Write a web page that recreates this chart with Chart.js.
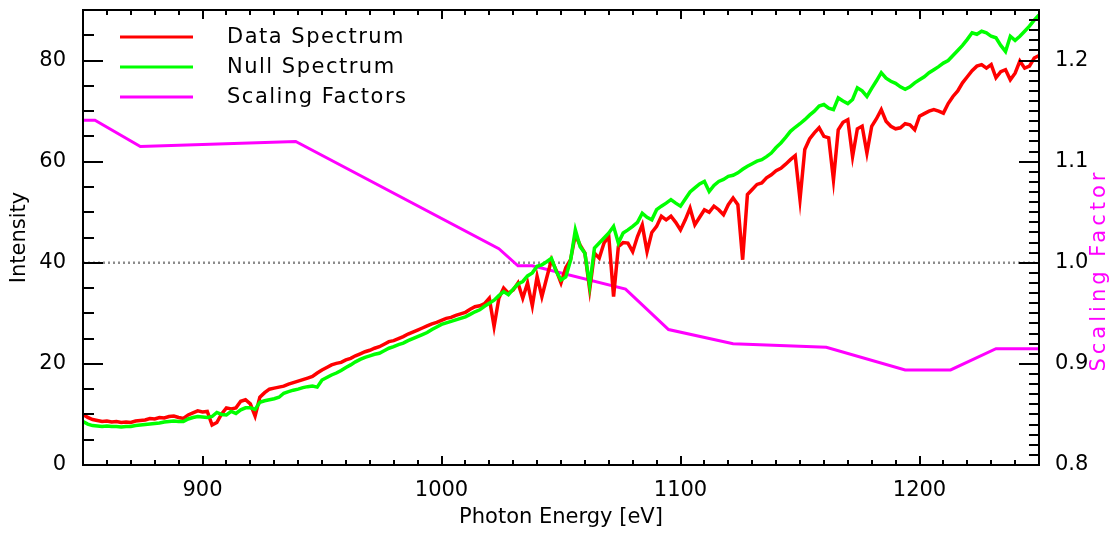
<!DOCTYPE html>
<html>
<head>
<meta charset="utf-8">
<script src="https://cdn.jsdelivr.net/npm/chart.js@4.4.0/dist/chart.umd.min.js"></script>
<style>
  html, body { margin: 0; padding: 0; background: #fff; }
</style>
</head>
<body>
<canvas id="spectrum" width="1118" height="533"></canvas>
<script>
// photon energy grid [eV]
const energy = [
  850, 852, 854, 856, 858, 860, 862, 864, 866, 868,
  870, 872, 874, 876, 878, 880, 882, 884, 886, 888,
  890, 892, 894, 896, 898, 900, 902, 904, 906, 908,
  910, 912, 914, 916, 918, 920, 922, 924, 926, 928,
  930, 932, 934, 936, 938, 940, 942, 944, 946, 948,
  950, 952, 954, 956, 958, 960, 962, 964, 966, 968,
  970, 972, 974, 976, 978, 980, 982, 984, 986, 988,
  990, 992, 994, 996, 998, 1000, 1002, 1004, 1006, 1008,
  1010, 1012, 1014, 1016, 1018, 1020, 1022, 1024, 1026, 1028,
  1030, 1032, 1034, 1036, 1038, 1040, 1042, 1044, 1046, 1048,
  1050, 1052, 1054, 1056, 1058, 1060, 1062, 1064, 1066, 1068,
  1070, 1072, 1074, 1076, 1078, 1080, 1082, 1084, 1086, 1088,
  1090, 1092, 1094, 1096, 1098, 1100, 1102, 1104, 1106, 1108,
  1110, 1112, 1114, 1116, 1118, 1120, 1122, 1124, 1126, 1128,
  1130, 1132, 1134, 1136, 1138, 1140, 1142, 1144, 1146, 1148,
  1150, 1152, 1154, 1156, 1158, 1160, 1162, 1164, 1166, 1168,
  1170, 1172, 1174, 1176, 1178, 1180, 1182, 1184, 1186, 1188,
  1190, 1192, 1194, 1196, 1198, 1200, 1202, 1204, 1206, 1208,
  1210, 1212, 1214, 1216, 1218, 1220, 1222, 1224, 1226, 1228,
  1230, 1232, 1234, 1236, 1238, 1240, 1242, 1244, 1246, 1248,
  1250
];

const dataSpectrum = [
  10.0, 9.4, 9.0, 8.8, 8.6, 8.7, 8.5, 8.6, 8.4, 8.5,
  8.4, 8.7, 8.8, 8.9, 9.2, 9.1, 9.4, 9.3, 9.6, 9.7,
  9.4, 9.2, 9.9, 10.3, 10.7, 10.5, 10.6, 7.9, 8.4, 10.1,
  11.3, 11.1, 11.3, 12.6, 12.9, 12.1, 9.7, 13.4, 14.3, 15.0,
  15.2, 15.4, 15.6, 16.0, 16.3, 16.6, 16.9, 17.2, 17.5, 18.2,
  18.8, 19.3, 19.8, 20.1, 20.3, 20.8, 21.1, 21.6, 22.0, 22.4,
  22.7, 23.1, 23.4, 23.9, 24.4, 24.6, 25.0, 25.4, 25.9, 26.3,
  26.7, 27.1, 27.5, 27.9, 28.2, 28.6, 29.0, 29.2, 29.6, 29.9,
  30.2, 30.8, 31.3, 31.5, 31.9, 33.0, 27.4, 33.0, 35.0, 34.0,
  34.6, 36.0, 33.0, 36.0, 31.5, 37.3, 33.3, 37.0, 40.6, 38.5,
  36.0, 39.0, 40.6, 45.5, 43.5, 41.9, 34.7, 41.9, 40.9, 43.9,
  45.2, 33.3, 43.2, 44.0, 43.9, 42.2, 45.2, 47.5, 42.2, 46.0,
  47.2, 49.2, 48.5, 49.2, 48.0, 46.5, 48.5, 50.8, 47.5, 49.0,
  50.5, 50.0, 51.2, 50.5, 49.5, 51.5, 52.8, 51.5, 40.6, 53.5,
  54.5, 55.5, 55.8, 56.8, 57.4, 58.2, 58.7, 59.5, 60.4, 61.2,
  52.5, 62.4, 64.5, 65.7, 66.7, 65.0, 64.7, 56.4, 66.3, 67.8,
  68.3, 61.0, 66.5, 67.0, 61.7, 67.0, 68.5, 70.3, 68.0, 67.0,
  66.5, 66.7, 67.5, 67.3, 66.3, 69.0, 69.5, 70.0, 70.3, 70.0,
  69.6, 71.5, 72.9, 74.0, 75.6, 76.8, 78.0, 78.9, 79.2, 78.5,
  79.2, 76.6, 77.8, 78.2, 76.2, 77.5, 79.9, 78.5, 78.9, 80.5,
  81.0
];

const nullSpectrum = [
  8.6, 8.1, 7.8, 7.7, 7.6, 7.7, 7.6, 7.6, 7.5, 7.6,
  7.6, 7.8, 7.9, 8.0, 8.1, 8.2, 8.3, 8.5, 8.6, 8.7,
  8.6, 8.6, 9.1, 9.4, 9.6, 9.5, 9.4, 9.6, 10.4, 10.0,
  9.9, 10.6, 10.2, 10.9, 11.3, 11.3, 11.0, 12.4, 12.7, 12.9,
  13.1, 13.4, 14.2, 14.5, 14.8, 15.0, 15.3, 15.5, 15.6, 15.4,
  16.8, 17.3, 17.8, 18.2, 18.7, 19.3, 19.8, 20.4, 20.9, 21.3,
  21.6, 21.9, 22.1, 22.6, 23.1, 23.4, 23.8, 24.1, 24.6, 25.0,
  25.4, 25.8, 26.2, 26.8, 27.3, 27.8, 28.1, 28.4, 28.7, 29.0,
  29.3, 29.8, 30.3, 30.7, 31.4, 32.0, 32.6, 33.5, 34.3, 33.7,
  34.8, 35.8, 36.3, 37.4, 38.0, 39.3, 39.6, 40.2, 40.9, 38.3,
  36.6, 37.2, 40.5, 46.5, 43.2, 41.9, 35.5, 42.9, 43.9, 44.9,
  45.9, 47.2, 43.9, 45.9, 46.5, 47.2, 48.0, 49.8, 49.0, 48.5,
  50.5, 51.2, 51.8, 52.5, 51.8, 51.2, 52.6, 54.0, 54.8, 55.6,
  56.1, 54.1, 55.3, 56.1, 56.5, 57.1, 57.3, 57.8, 58.5, 59.1,
  59.6, 60.1, 60.4, 61.0, 61.7, 62.8, 63.7, 64.8, 66.0, 66.8,
  67.5, 68.3, 69.2, 70.0, 71.0, 71.3, 70.6, 70.3, 72.6, 72.0,
  71.5, 72.3, 74.6, 74.0, 72.9, 74.5, 76.0, 77.6, 76.5, 75.9,
  75.5, 74.8, 74.3, 74.8, 75.6, 76.2, 76.8, 77.6, 78.2, 78.8,
  79.5, 80.0, 81.0, 82.0, 83.0, 84.2, 85.5, 85.2, 85.8, 85.5,
  84.8, 84.5, 83.0, 81.8, 84.8, 84.0, 84.8, 85.8, 86.8, 88.0,
  89.0
];

// scaling factor knots (right axis)
const scaleEnergy = [850, 855, 874, 939, 1024, 1032, 1038, 1077, 1095, 1122, 1161, 1194, 1213, 1232, 1250];
const scaleFactor = [1.141, 1.141, 1.115, 1.120, 1.014, 0.997, 0.997, 0.974, 0.934, 0.920, 0.9165, 0.894, 0.894, 0.915, 0.915];

const refEnergy = [850, 1250];
const refLevel = [40, 40];

const xTicks = [900, 1000, 1100, 1200];
const yTicks = [0, 20, 40, 60, 80];
const y2Ticks = [0.8, 0.9, 1.0, 1.1, 1.2];

const legendItems = [
  { label: 'Data Spectrum', color: '#ff0000' },
  { label: 'Null Spectrum', color: '#00ff00' },
  { label: 'Scaling Factors', color: '#ff00ff' }
];

const FONT = "'DejaVu Sans', sans-serif";

function pairs(xs, ys) {
  return xs.map((x, i) => ({ x: x, y: ys[i] }));
}

// drop the label overflow padding so the plot box sits where the reference has it
function noLabelPadding(s) {
  s.paddingTop = 0;
  s.paddingBottom = 0;
  s.paddingLeft = 0;
  s.paddingRight = 0;
}

// frame, inward IDL-style ticks, legend and right-hand title
const idlFrame = {
  id: 'idlFrame',
  afterDraw(chart) {
    const { ctx, chartArea: a, scales } = chart;
    const x = scales.x, y = scales.y, y2 = scales.y2;
    ctx.save();
    ctx.strokeStyle = '#000';
    ctx.lineWidth = 2;
    ctx.strokeRect(a.left, a.top, a.right - a.left, a.bottom - a.top);

    ctx.beginPath();
    for (let v = 860; v < 1250; v += 10) {
      const px = Math.round(x.getPixelForValue(v));
      const len = v % 100 === 0 ? 9 : 5;
      ctx.moveTo(px, a.bottom); ctx.lineTo(px, a.bottom - len);
      ctx.moveTo(px, a.top); ctx.lineTo(px, a.top + len);
    }
    for (let v = 5; v < 90; v += 5) {
      const py = Math.round(y.getPixelForValue(v));
      const len = v % 20 === 0 ? 20 : 11;
      ctx.moveTo(a.left, py); ctx.lineTo(a.left + len, py);
    }
    for (let i = 81; i < 125; i++) {
      const py = Math.round(y2.getPixelForValue(i / 100));
      const len = i % 10 === 0 ? 20 : 10;
      ctx.moveTo(a.right, py); ctx.lineTo(a.right - len, py);
    }
    ctx.stroke();

    // legend
    ctx.font = '21px ' + FONT;
    ctx.letterSpacing = '1.5px';
    ctx.textBaseline = 'middle';
    ctx.textAlign = 'left';
    legendItems.forEach((item, i) => {
      const ly = 37 + i * 30;
      ctx.strokeStyle = item.color;
      ctx.lineWidth = 3;
      ctx.beginPath();
      ctx.moveTo(120, ly); ctx.lineTo(193, ly);
      ctx.stroke();
      ctx.fillStyle = '#000';
      ctx.fillText(item.label, 227, ly + 1);
    });

    // right axis title, reads bottom to top
    ctx.letterSpacing = '4px';
    ctx.translate(1100, 270);
    ctx.rotate(-Math.PI / 2);
    ctx.fillStyle = '#ff00ff';
    ctx.textAlign = 'center';
    ctx.fillText('Scaling Factor', 0, 0);
    ctx.restore();
  }
};

Chart.defaults.font.family = FONT;
Chart.defaults.font.size = 21;
Chart.defaults.color = '#000';

new Chart(document.getElementById('spectrum'), {
  type: 'line',
  data: {
    datasets: [
      {
        label: 'Null Spectrum',
        data: pairs(energy, nullSpectrum),
        borderColor: '#00ff00',
        borderWidth: 3.5,
        yAxisID: 'y'
      },
      {
        label: 'Data Spectrum',
        data: pairs(energy, dataSpectrum),
        borderColor: '#ff0000',
        borderWidth: 3.5,
        yAxisID: 'y'
      },
      {
        label: 'Scaling Factors',
        data: pairs(scaleEnergy, scaleFactor),
        borderColor: '#ff00ff',
        borderWidth: 3,
        yAxisID: 'y2'
      },
      {
        label: 'unity',
        data: pairs(refEnergy, refLevel),
        borderColor: '#8c8c8c',
        borderWidth: 2.5,
        borderDash: [2, 3],
        yAxisID: 'y'
      }
    ]
  },
  options: {
    responsive: false,
    animation: false,
    elements: {
      point: { radius: 0 },
      line: { tension: 0, borderJoinStyle: 'miter' }
    },
    layout: { padding: { top: 10, left: 0, right: 0, bottom: 0 } },
    plugins: {
      legend: { display: false },
      tooltip: { enabled: false }
    },
    scales: {
      x: {
        type: 'linear',
        position: 'bottom',
        min: 850,
        max: 1250,
        grid: { display: false },
        border: { display: false },
        afterBuildTicks: (s) => { s.ticks = xTicks.map(v => ({ value: v })); },
        afterFit: (s) => { s.height = 68; noLabelPadding(s); },
        ticks: { padding: 5, maxRotation: 0, autoSkip: false, callback: (v) => String(v) },
        title: { display: true, text: 'Photon Energy [eV]', padding: { top: 0, bottom: 3 } }
      },
      y: {
        type: 'linear',
        position: 'left',
        min: 0,
        max: 90,
        grid: { display: false },
        border: { display: false },
        afterBuildTicks: (s) => { s.ticks = yTicks.map(v => ({ value: v })); },
        afterFit: (s) => { s.width = 83; noLabelPadding(s); },
        ticks: { padding: 9, autoSkip: false, callback: (v) => String(v) },
        title: { display: true, text: 'Intensity', padding: { top: 7, bottom: 0 } }
      },
      y2: {
        type: 'linear',
        position: 'right',
        min: 0.8,
        max: 1.25,
        grid: { display: false },
        border: { display: false },
        afterBuildTicks: (s) => { s.ticks = y2Ticks.map(v => ({ value: v })); },
        afterFit: (s) => { s.width = 79; noLabelPadding(s); },
        ticks: { padding: 8, autoSkip: false, callback: (v) => Number(v).toFixed(1) }
      }
    }
  },
  plugins: [idlFrame]
});
</script>
</body>
</html>
